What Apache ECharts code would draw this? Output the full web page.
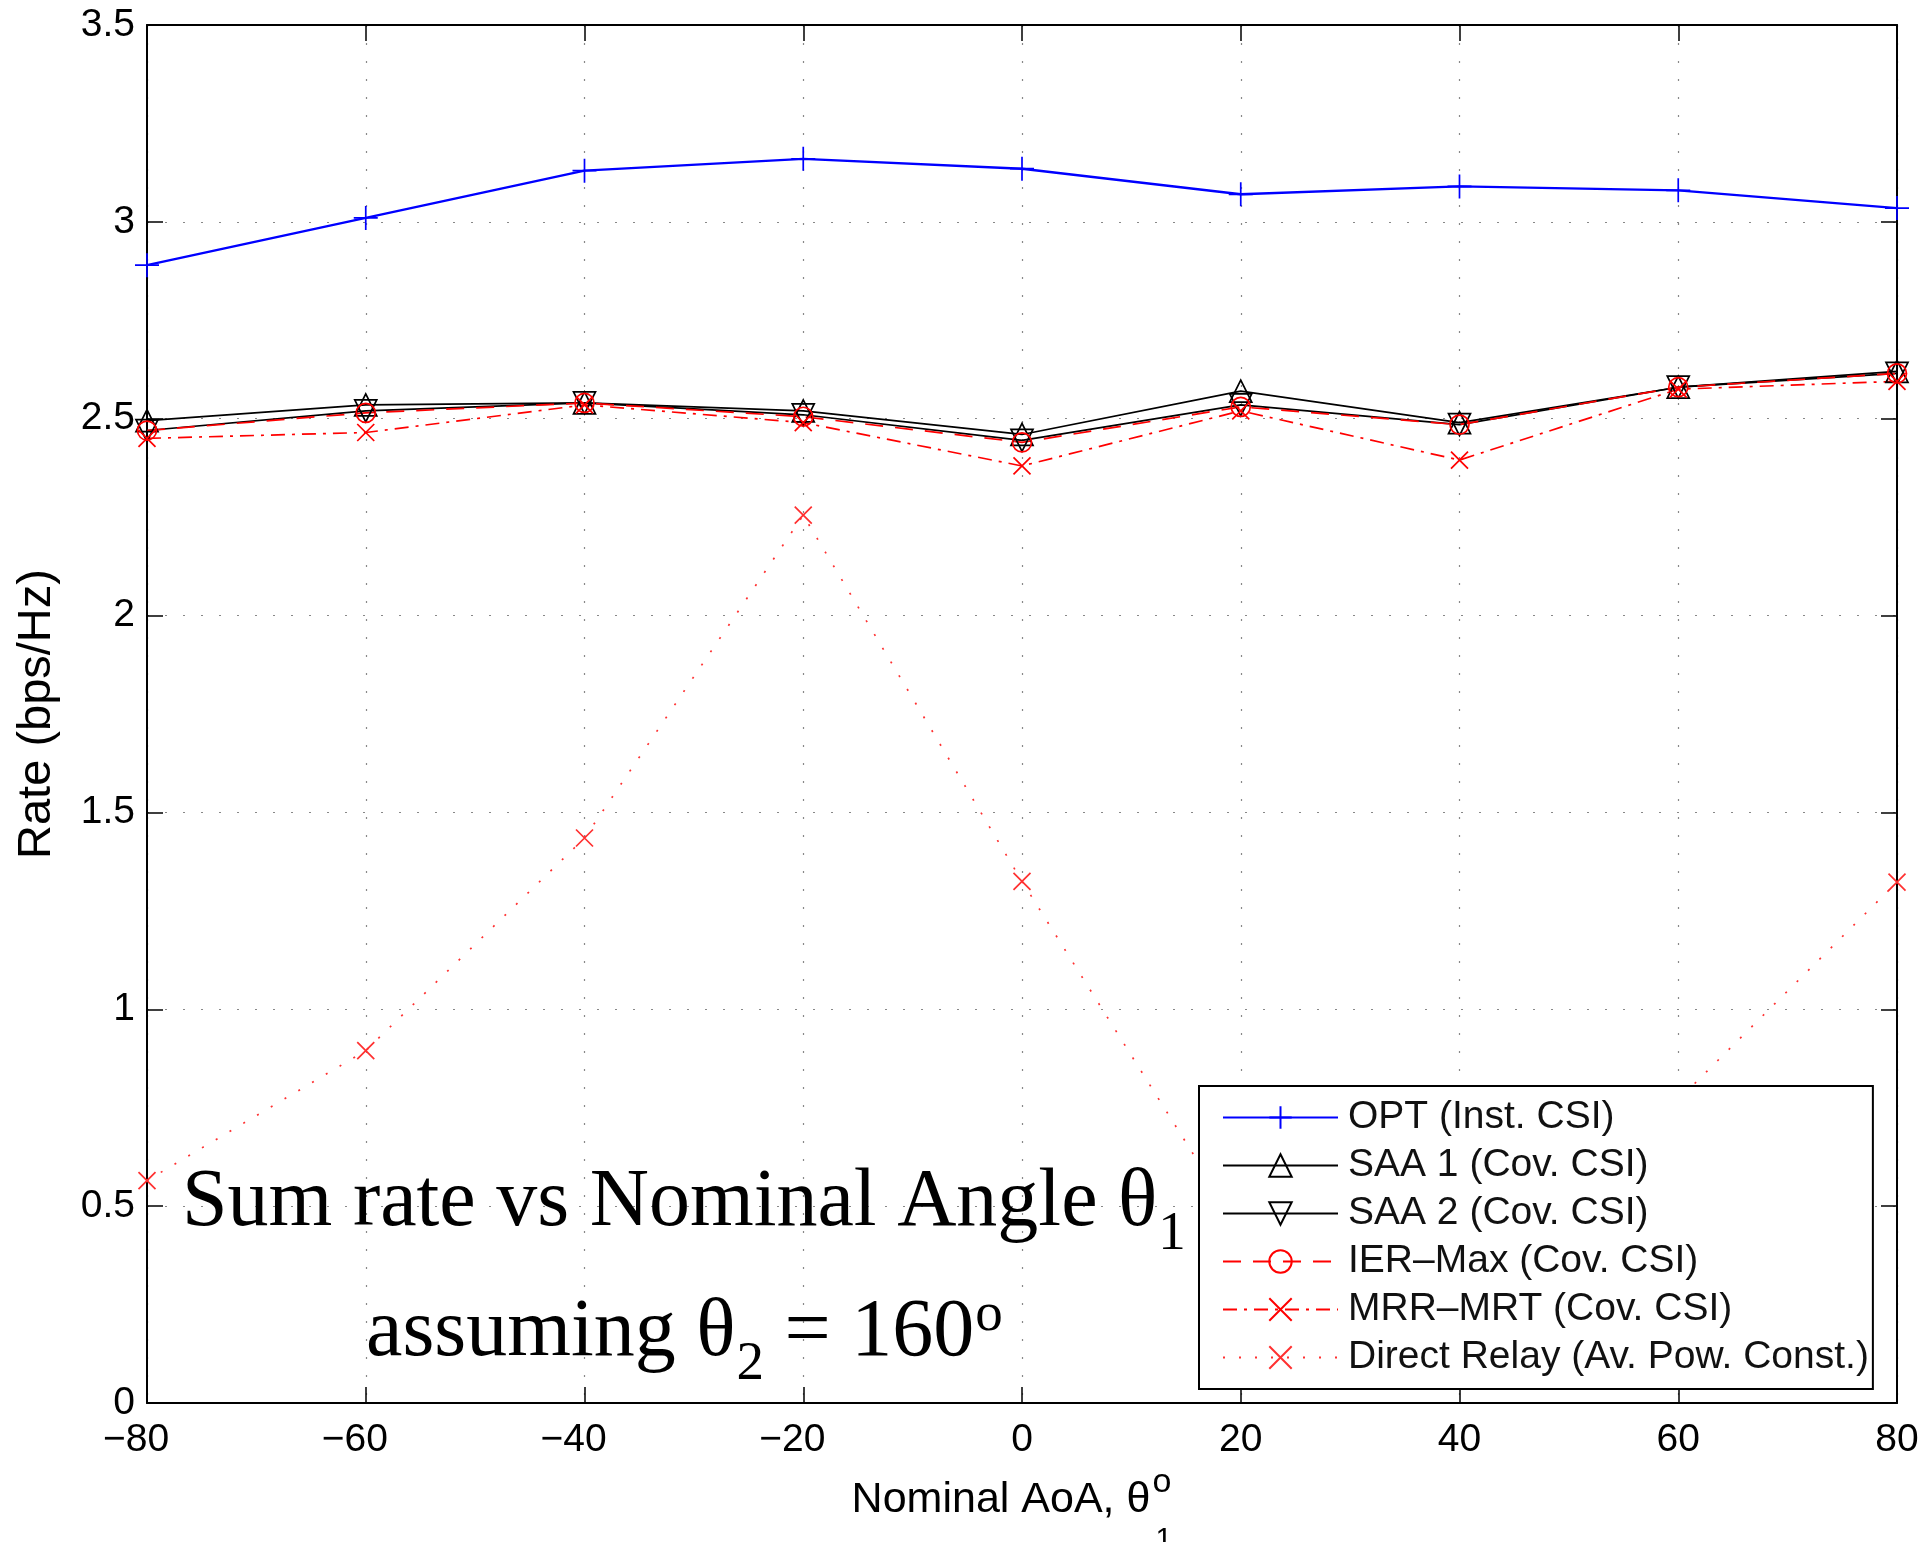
<!DOCTYPE html>
<html><head><meta charset="utf-8">
<script src="https://cdn.jsdelivr.net/npm/echarts@6/dist/echarts.min.js"></script>
<style>html,body{margin:0;padding:0;background:#fff}#c{width:1925px;height:1542px}</style>
</head><body><div id="c"></div>
<script>
const angles = [-80, -60, -40, -20, 0, 20, 40, 60, 80];
const optInst = [2.89, 3.01, 3.13, 3.16, 3.135, 3.07, 3.09, 3.08, 3.035];
const saa1 = [2.495, 2.535, 2.54, 2.52, 2.46, 2.57, 2.49, 2.58, 2.62];
const saa2 = [2.47, 2.52, 2.54, 2.51, 2.445, 2.535, 2.485, 2.58, 2.615];
const ierMax = [2.47, 2.515, 2.54, 2.505, 2.44, 2.53, 2.485, 2.58, 2.615];
const mrrMrt = [2.45, 2.465, 2.535, 2.49, 2.38, 2.52, 2.395, 2.575, 2.595];
const directRelay = [0.565, 0.895, 1.435, 2.255, 1.325, 0.44, 0.42, 0.77, 1.323];
const names = ['OPT (Inst. CSI)', 'SAA 1 (Cov. CSI)', 'SAA 2 (Cov. CSI)', 'IER\u2013Max (Cov. CSI)', 'MRR\u2013MRT (Cov. CSI)', 'Direct Relay (Av. Pow. Const.)'];

const pair = arr => angles.map((a, i) => [a, arr[i]]);
const PLUS = 'path://M0,10 L20,10 M10,0 L10,20';
const CROSS = 'path://M0,0 L20,20 M20,0 L0,20';
const TRI_UP = 'path://M10,0 L20,18 L0,18 Z';
const TRI_DN = 'path://M0,0 L20,0 L10,18 Z';

function mk(name, data, color, lineType, symbol, size, lw) {
  return {
    name, type: 'line', data: pair(data), symbol, symbolSize: size,
    showAllSymbol: true,
    lineStyle: { color, width: lw, type: lineType },
    itemStyle: { color: 'transparent', borderColor: color, borderWidth: 1.7 },
    emphasis: { disabled: true }, silent: true, z: 3
  };
}

const sans = 'Liberation Sans';
const serif = 'Liberation Serif';
const cv = document.createElement('canvas').getContext('2d');
function tw(t, font) { cv.font = font; return cv.measureText(t).width; }

const graphics = [];
function txt(t, x, baseline, size, family) {
  graphics.push({ type: 'text', z: 50, silent: true,
    style: { text: t, x: x, y: baseline - 0.32 * size, font: size + 'px "' + family + '"', fill: '#000', textAlign: 'left', textVerticalAlign: 'middle' } });
  return x + tw(t, size + 'px "' + family + '"');
}
// annotation line 1
let x1 = txt('Sum rate vs Nominal Angle \u03b8', 182, 1230, 82, serif);
txt('1', x1 + 1, 1252, 55, serif);
// annotation line 2
let x2 = txt('assuming \u03b8', 366, 1360, 82, serif);
x2 = txt('2', x2 + 1, 1382, 55, serif);
x2 = txt(' = 160', x2, 1360, 82, serif);
txt('o', x2 + 1, 1333, 55, serif);
// x axis name
const xn = 'Nominal AoA, \u03b8';
const xnW = tw(xn, '43px "' + sans + '"') + 22;
let x3 = txt(xn, 1012 - xnW / 2, 1514, 43, sans);
txt('o', x3 + 2, 1494, 34, sans);
txt('1', x3 + 5, 1549, 30, sans);

const chart = echarts.init(document.getElementById('c'), null, { renderer: 'canvas' });
const tickFmt = v => v < 0 ? '{n|\u2212' + Math.abs(v) + '}' : '{p|' + v + '}';
const lblRich = { n: { fontFamily: sans, fontSize: 39, color: '#000', padding: [0, 22, 0, 0] }, p: { fontFamily: sans, fontSize: 39, color: '#000' } };
const boxLine = { show: true, onZero: false, lineStyle: { color: '#000', width: 2 } };
const tick = { show: true, inside: true, length: 16, lineStyle: { color: '#000', width: 1.5 } };
const grid = { show: true, lineStyle: { color: '#888', width: 1.2, type: [2, 16] } };
chart.setOption({
  animation: false,
  backgroundColor: '#fff',
  grid: { left: 147, right: 28, top: 25, bottom: 139, containLabel: false },
  xAxis: [{
    type: 'value', min: -80, max: 80, interval: 20, position: 'bottom',
    axisLine: boxLine, axisTick: tick,
    axisLabel: { formatter: tickFmt, rich: lblRich, margin: 18 },
    splitLine: grid
  }, {
    type: 'value', min: -80, max: 80, interval: 20, position: 'top',
    axisLine: boxLine, axisTick: tick,
    axisLabel: { show: false }, splitLine: { show: false }
  }],
  yAxis: [{
    type: 'value', min: 0, max: 3.5, interval: 0.5, position: 'left',
    name: 'Rate (bps/Hz)', nameLocation: 'middle', nameGap: 86, nameRotate: 90,
    nameTextStyle: { fontFamily: sans, fontSize: 47, color: '#000' },
    axisLine: boxLine, axisTick: tick,
    axisLabel: { fontFamily: sans, fontSize: 39, color: '#000', margin: 12 },
    splitLine: grid
  }, {
    type: 'value', min: 0, max: 3.5, interval: 0.5, position: 'right',
    axisLine: boxLine, axisTick: tick,
    axisLabel: { show: false }, splitLine: { show: false }
  }],
  legend: {
    orient: 'vertical', left: 1199, top: 1086,
    itemWidth: 115, itemHeight: 28, itemGap: 9,
    padding: [12, 4, 12, 23],
    backgroundColor: '#fff', borderColor: '#000', borderWidth: 2, borderRadius: 0,
    textStyle: { fontFamily: sans, fontSize: 39, color: '#111', padding: [0, 0, 0, 5] },
    selectedMode: false,
    data: names
  },
  graphic: graphics,
  series: [
    mk(names[0], optInst, '#0000ff', 'solid', PLUS, 24, 2.4),
    mk(names[1], saa1, '#000000', 'solid', TRI_UP, 22, 1.7),
    mk(names[2], saa2, '#000000', 'solid', TRI_DN, 22, 1.7),
    mk(names[3], ierMax, '#ff0000', [18, 12], 'circle', 19, 1.7),
    mk(names[4], mrrMrt, '#ff0000', [14, 7, 3, 7], CROSS, 17, 1.7),
    mk(names[5], directRelay, '#ff3030', [2, 14], CROSS, 17, 1.7)
  ]
});
</script></body></html>
